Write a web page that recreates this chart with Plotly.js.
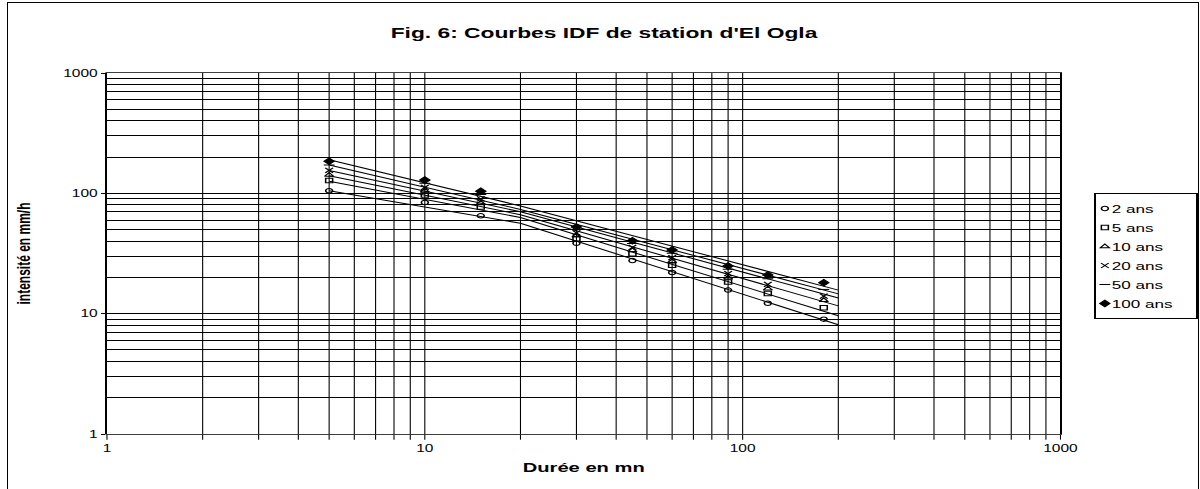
<!DOCTYPE html>
<html>
<head>
<meta charset="utf-8">
<script src="https://cdn.plot.ly/plotly-3.0.1.min.js"></script>
<style>
html,body{margin:0;padding:0;background:#fff;overflow:hidden;}
#wrap{position:absolute;left:0;top:0;width:774px;height:489px;transform:scaleX(1.5504);transform-origin:0 0;}
#chart{width:774px;height:489px;}
#frame{position:absolute;left:7px;top:2px;width:1190px;height:495px;border:1px solid #000;pointer-events:none;}
</style>
</head>
<body>
<div id="wrap"><div id="chart"></div></div>
<div id="frame"></div>
<script>
// Durations (minutes)
const durations = [5, 10, 15, 30, 45, 60, 90, 120, 180];
// Observed intensities (mm/h) by return period
const i2   = [105, 84, 65, 38.5, 27.6, 22.0, 15.7, 12.2, 9.0];
const i5   = [128, 97, 77, 42.0, 31.5, 25.3, 18.3, 14.7, 11.2];
const i10  = [142, 105, 83, 44.5, 33.5, 27.2, 19.9, 16.1, 12.9];
const i20  = [155, 112, 90, 47.0, 35.5, 29.2, 21.5, 17.5, 14.0];
const i50  = [172, 121, 98, 50.0, 38.3, 31.8, 23.4, 19.5, 15.9];
const i100 = [185, 129, 104, 52.5, 40.4, 33.8, 24.9, 21.0, 18.1];
// Fitted IDF curves
const fitDur = [5, 20, 200];
const fit2   = [105, 56.4, 8.1];
const fit5   = [126, 63.0, 9.6];
const fit10  = [140, 66.4, 11.6];
const fit20  = [155, 70.2, 13.5];
const fit50  = [172, 73.5, 14.6];
const fit100 = [190, 78.6, 15.7];
// Axis ticks
const majorTicks = [1, 10, 100, 1000];
const majorLabels = ['1', '10', '100', '1000'];

const names = ['2 ans', '5 ans', '10 ans', '20 ans', '50 ans', '100 ans'];
const obs = [i2, i5, i10, i20, i50, i100];
const fits = [fit2, fit5, fit10, fit20, fit50, fit100];
const symbols = ['circle-open', 'square-open', 'triangle-up-open', 'x-thin-open', 'line-ew-open', 'diamond'];
const sizes = [4.5, 4.5, 5, 5, 5, 5];

const minorTicks = [];
[1, 10, 100].forEach(d => { for (let k = 2; k <= 9; k++) minorTicks.push(d * k); });

const traces = [];
fits.forEach((f) => {
  traces.push({x: fitDur, y: f, mode: 'lines', type: 'scatter', showlegend: false,
    line: {color: '#000', width: 1}, hoverinfo: 'skip'});
});
obs.forEach((v, k) => {
  traces.push({x: durations, y: v, mode: 'markers', type: 'scatter', name: names[k],
    marker: {symbol: symbols[k], size: sizes[k], color: '#000', line: {color: '#000', width: 1}}});
});

const FF = 'Liberation Sans, Arial, sans-serif';
const axFont = {family: FF, size: 10, color: '#000'};
const layout = {
  width: 774, height: 489,
  margin: {l: 69, r: 90, t: 73, b: 55},
  paper_bgcolor: 'rgba(0,0,0,0)', plot_bgcolor: '#fff',
  font: axFont,
  title: {text: "Fig. 6: Courbes IDF de station d'El Ogla", font: {family: FF, size: 14.7, color: '#000', weight: 'bold'},
    x: 604/1200, xref: 'container', xanchor: 'center', y: 1 - 32.5/489, yref: 'container', yanchor: 'middle'},
  xaxis: {type: 'log', range: [0, 3], tickmode: 'array', tickvals: majorTicks, ticktext: majorLabels,
    showline: true, linecolor: '#000', linewidth: 0.7, mirror: true,
    ticks: 'outside', ticklen: 5, tickcolor: '#000', tickwidth: 0.7,
    showgrid: true, gridcolor: '#000', gridwidth: 0.7, zeroline: false,
    minor: {tickmode: 'array', tickvals: minorTicks, showgrid: true, gridcolor: '#000', gridwidth: 0.7, ticks: 'outside', ticklen: 5, tickcolor: '#000', tickwidth: 0.7},
    tickfont: axFont,
    title: {text: 'Durée en mn', font: {family: FF, size: 13, color: '#000', weight: 'bold'}, standoff: 10}},
  yaxis: {type: 'log', range: [0, 3], tickmode: 'array', tickvals: majorTicks, ticktext: majorLabels,
    showline: true, linecolor: '#000', linewidth: 1, mirror: true,
    ticks: 'outside', ticklen: 3, tickcolor: '#000',
    showgrid: true, gridcolor: '#000', gridwidth: 1, zeroline: false,
    minor: {tickmode: 'array', tickvals: minorTicks, showgrid: true, gridcolor: '#000', gridwidth: 1},
    tickfont: axFont,
    title: {text: 'intensité en mm/h', font: {family: FF, size: 12, color: '#000', weight: 'bold'}, standoff: 18}},
  legend: {xref: 'container', yref: 'container', x: 1094/1200, xanchor: 'left', y: 1 - 193/489, yanchor: 'top',
    bordercolor: '#000', borderwidth: 1, bgcolor: '#fff',
    font: {family: FF, size: 11, color: '#000'},
    itemwidth: 30, tracegroupgap: 0},
  showlegend: true
};

const gd = document.getElementById('chart');
Plotly.newPlot(gd, traces, layout, {displayModeBar: false, staticPlot: true}).then(() => {
  gd.querySelectorAll('.legend .traces').forEach(g => {
    const t = g.querySelector('.legendtext');
    if (t) t.setAttribute('x', 10.5);
    g.querySelectorAll('.legendpoints path').forEach(p => p.setAttribute('transform', 'translate(6,0)'));
  });
  const bg = gd.querySelector('.legend .bg');
  if (bg) bg.setAttribute('width', 66);
});
</script>
</body>
</html>
